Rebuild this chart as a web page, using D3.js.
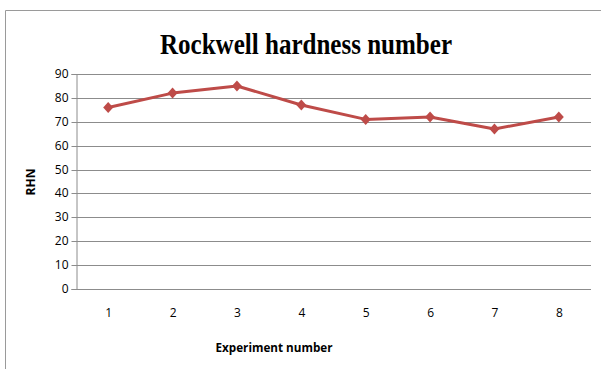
<!DOCTYPE html>
<html>
<head>
<meta charset="utf-8">
<script src="https://cdn.jsdelivr.net/npm/d3@7"></script>
<style>
  html, body { margin: 0; padding: 0; background: #fff; }
  svg { display: block; }
</style>
</head>
<body>
<svg id="chart" width="601" height="369"></svg>
<script>
// Experiment numbers and measured Rockwell hardness values
const experiments = ["1", "2", "3", "4", "5", "6", "7", "8"];
const rhnValues = [76, 82, 85, 77, 71, 72, 67, 72];
const yTicks = [0, 10, 20, 30, 40, 50, 60, 70, 80, 90];

const svg = d3.select("#chart");
const W = 601, H = 369;
const plot = { left: 76, right: 591, top: 74, bottom: 289 };
const lineColor = "#BE4B48";
const gridColor = "#8c8c8c";

// outer chart frame (top and left edges visible)
svg.append("path")
  .attr("d", `M5.5,${H} V10.5 H${W}`)
  .attr("fill", "none")
  .attr("stroke", "#9a9a9a")
  .attr("stroke-width", 1);

const x = d3.scalePoint().domain(experiments)
  .range([plot.left, plot.right]).padding(0.5);
const y = d3.scaleLinear().domain([0, 90])
  .range([plot.bottom, plot.top]);

// horizontal gridlines
svg.append("g").selectAll("line")
  .data(yTicks.filter(d => d > 0))
  .join("line")
  .attr("x1", plot.left).attr("x2", plot.right)
  .attr("y1", d => Math.round(y(d)) + 0.5).attr("y2", d => Math.round(y(d)) + 0.5)
  .attr("stroke", gridColor).attr("stroke-width", 1);

// y axis
const yAxis = svg.append("g")
  .attr("transform", `translate(${plot.left + 0.5},0)`)
  .call(d3.axisLeft(y).tickValues(yTicks).tickSize(5).tickPadding(3));
yAxis.select(".domain").attr("stroke", gridColor);
yAxis.selectAll(".tick line").attr("stroke", gridColor);
yAxis.selectAll(".tick text")
  .attr("font-family", "'Open Sans', 'Liberation Sans', sans-serif")
  .attr("font-size", 12).attr("fill", "#000");
yAxis.selectAll(".tick").attr("transform", d => `translate(0,${Math.round(y(d)) + 0.5})`);

// x axis (baseline only, labels below)
const xAxis = svg.append("g")
  .attr("transform", `translate(0,${Math.round(plot.bottom) + 0.5})`)
  .call(d3.axisBottom(x).tickSize(0).tickPadding(19));
xAxis.select(".domain").attr("stroke", gridColor)
  .attr("d", `M${plot.left},0H${plot.right}`);
xAxis.selectAll(".tick text")
  .attr("font-family", "'Open Sans', 'Liberation Sans', sans-serif")
  .attr("font-size", 12).attr("fill", "#000");

// data line
svg.append("path")
  .datum(rhnValues)
  .attr("fill", "none")
  .attr("stroke", lineColor)
  .attr("stroke-width", 3)
  .attr("stroke-linejoin", "round")
  .attr("d", d3.line().x((d, i) => x(experiments[i])).y(d => y(d)));

// diamond markers
svg.append("g").selectAll("path")
  .data(rhnValues)
  .join("path")
  .attr("transform", (d, i) => `translate(${x(experiments[i])},${y(d)})`)
  .attr("d", "M0,-5.5L5,0L0,5.5L-5,0Z")
  .attr("fill", lineColor);

// title
svg.append("text")
  .attr("x", 306).attr("y", 54)
  .attr("text-anchor", "middle")
  .attr("font-family", "'Liberation Serif', 'DejaVu Serif', serif")
  .attr("font-weight", "bold")
  .attr("font-size", 29)
  .attr("textLength", 292).attr("lengthAdjust", "spacingAndGlyphs")
  .text("Rockwell hardness number");

// axis titles
svg.append("text")
  .attr("x", 274).attr("y", 352)
  .attr("text-anchor", "middle")
  .attr("font-family", "'Open Sans', 'Liberation Sans', sans-serif")
  .attr("font-weight", "bold")
  .attr("font-size", 12)
  .attr("textLength", 117).attr("lengthAdjust", "spacingAndGlyphs")
  .text("Experiment number");

svg.append("text")
  .attr("transform", "translate(35,182) rotate(-90)")
  .attr("text-anchor", "middle")
  .attr("font-family", "'Open Sans', 'Liberation Sans', sans-serif")
  .attr("font-weight", "bold")
  .attr("font-size", 12)
  .text("RHN");
</script>
</body>
</html>
